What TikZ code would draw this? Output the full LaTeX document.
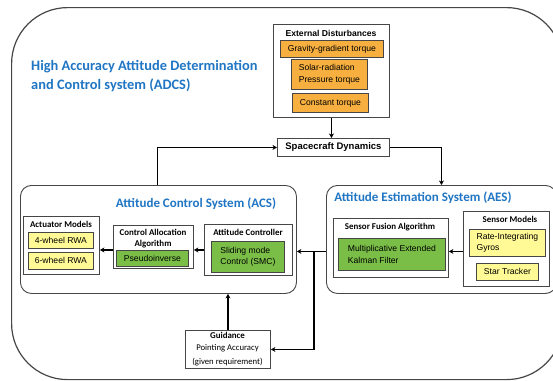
\documentclass[tikz,border=0pt]{standalone}
\usepackage{fontspec}
\setmainfont{Carlito}
\newfontfamily\arial{Liberation Sans}
\usetikzlibrary{arrows.meta}
\definecolor{titleblue}{RGB}{32,118,196}
\definecolor{dorange}{RGB}{247,176,64}
\definecolor{dyellow}{RGB}{255,250,150}
\definecolor{dgreen}{RGB}{122,190,72}
\definecolor{frame}{RGB}{70,70,70}
\tikzset{
  outerbox/.style={draw=frame, line width=1.2pt, rounded corners=56pt, anchor=north west, inner sep=0pt},
  subsys/.style={draw=frame, line width=0.9pt, rounded corners=11pt, anchor=north west, inner sep=0pt},
  group/.style={draw=frame, line width=0.9pt, fill=white, anchor=north west, inner sep=0pt},
  item/.style={draw=frame, line width=0.8pt, anchor=north west, inner sep=0pt, font=\arial\fontsize{8.6}{11.5}\selectfont},
  orangebox/.style={item, fill=dorange},
  yellowbox/.style={item, fill=dyellow},
  greenbox/.style={item, fill=dgreen},
  grouptitle/.style={font=\bfseries\fontsize{8.9}{11}\selectfont, inner sep=0pt},
  bigtitle/.style={font=\bfseries\fontsize{13}{15}\selectfont, text=titleblue, inner sep=0pt},
  arr/.style={draw=black, line width=1.1pt, -{Stealth[length=4.5pt,width=5pt]}},
  link/.style={draw=black, line width=1.1pt}
}
\begin{document}
\begin{tikzpicture}[x=1pt,y=-1pt]
\useasboundingbox (0,0) rectangle (553,380);
\clip (0,0) rectangle (553,380);
\fill[white] (0,0) rectangle (553,380);

% outer frame and heading
\node[outerbox, minimum width=551pt, minimum height=372pt] (adcs) at (11,7) {};
\node[anchor=west, align=left, font=\bfseries\fontsize{14.4}{19}\selectfont, text=titleblue, inner sep=0pt] (head) at (31,76.5)
  {High Accuracy Attitude Determination\\and Control system (ADCS)};

% external disturbances
\node[group, minimum width=116pt, minimum height=93pt] (ext) at (273,24) {};
\node[font=\arial\bfseries\fontsize{8.6}{10}\selectfont, inner sep=0pt] (extt) at (331,33) {External Disturbances};
\node[orangebox, minimum width=103pt, minimum height=17pt] (gg) at (280,40) {Gravity-gradient torque};
\node[orangebox, minimum width=76pt, minimum height=30pt, align=left] (srp) at (291,59) {Solar-radiation\\Pressure torque};
\node[orangebox, minimum width=76pt, minimum height=19pt] (ct) at (292,93) {Constant torque};

% spacecraft dynamics
\node[group, minimum width=112pt, minimum height=18pt, font=\arial\bfseries\fontsize{9.5}{11}\selectfont] (sd) at (277,138) {Spacecraft Dynamics};

% attitude control system
\node[subsys, minimum width=276pt, minimum height=108pt] (acs) at (20,185) {};
\node[bigtitle] (acst) at (196,204) {Attitude Control System (ACS)};

\node[group, minimum width=76pt, minimum height=58pt] (act) at (23,216) {};
\node[grouptitle] (actt) at (61,224.5) {Actuator Models};
\node[yellowbox, minimum width=65pt, minimum height=16pt] (rwa4) at (28,232) {4-wheel RWA};
\node[yellowbox, minimum width=65pt, minimum height=17pt] (rwa6) at (28,252) {6-wheel RWA};

\node[group, minimum width=80pt, minimum height=43pt] (ca) at (113,225) {};
\node[grouptitle, align=center] (cat) at (153,238.5) {Control Allocation\\Algorithm};
\node[greenbox, minimum width=72pt, minimum height=16pt] (pinv) at (116,250) {Pseudoinverse};

\node[group, minimum width=88pt, minimum height=51pt] (ac) at (204,224) {};
\node[grouptitle] (act2) at (248,232.5) {Attitude Controller};
\node[greenbox, minimum width=73pt, minimum height=31pt, align=left] (smc) at (211,241) {Sliding mode\\Control (SMC)};

% guidance
\node[group, minimum width=85pt, minimum height=38pt] (guid) at (185,330) {};
\node[grouptitle] (guidt) at (227.5,335) {Guidance};
\node[font=\fontsize{8.7}{13.5}\selectfont, align=center, inner sep=0pt] (guidtx) at (227.5,355) {Pointing Accuracy\\(given requirement)};

% attitude estimation system
\node[subsys, minimum width=230pt, minimum height=108pt] (aes) at (326,185) {};
\node[bigtitle] (aest) at (423,198) {Attitude Estimation System (AES)};

\node[group, minimum width=115pt, minimum height=59pt] (sf) at (333,218) {};
\node[grouptitle] (sft) at (390,227.5) {Sensor Fusion Algorithm};
\node[greenbox, minimum width=107pt, minimum height=32pt, align=left] (mekf) at (338,238) {Multiplicative Extended\\Kalman Filter};

\node[group, minimum width=86pt, minimum height=75pt] (sm) at (463,211) {};
\node[grouptitle] (smt) at (510,219) {Sensor Models};
\node[yellowbox, minimum width=76pt, minimum height=27pt, align=left] (rig) at (469,229) {Rate-Integrating\\Gyros};
\node[yellowbox, minimum width=62pt, minimum height=17pt] (st) at (476,263) {Star Tracker};

% signal flow
\draw[arr] (ext.south) -- (ext.south |- sd.north);
\draw[arr] ([xshift=-1pt]acs.north) |- (sd.west);
\draw[arr] (sd.east) -| (aes.north);
\coordinate (fb) at (314,251);
\draw[arr] ([yshift=-12pt]aes.west) -- ([yshift=-12pt]acs.east);
\draw[arr] (fb) |- (guid.east);
\draw[arr] (guid.north) -- (guid.north |- acs.south);
\draw[arr] ([yshift=-2.5pt]sm.west) -- ([yshift=-2.5pt]sm.west -| sf.east);
\draw[arr] (ac.west) -- (ac.west -| ca.east);
\draw[arr] (ac.west -| ca.west) -- (ac.west -| act.east);
\end{tikzpicture}
\end{document}
